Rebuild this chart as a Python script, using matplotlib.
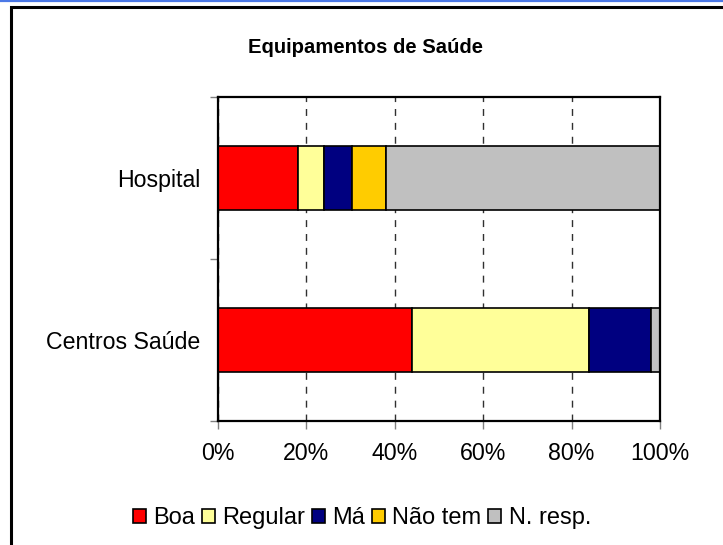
import matplotlib
matplotlib.use("Agg")
import matplotlib.pyplot as plt
from matplotlib.patches import Rectangle
from matplotlib.lines import Line2D
from matplotlib.ticker import FixedLocator, PercentFormatter

plt.rcParams['font.family'] = ['Liberation Sans', 'DejaVu Sans']

categories = ["Centros Saúde", "Hospital"]
series_names = ["Boa", "Regular", "Má", "Não tem", "N. resp."]
colors = ["#FF0000", "#FFFF99", "#000080", "#FFCC00", "#C0C0C0"]
values = {
    "Boa":      [43.8, 18.0],
    "Regular":  [40.1, 5.9],
    "Má":       [14.1, 6.4],
    "Não tem":  [0.0, 7.6],
    "N. resp.": [2.0, 62.1],
}
x_ticks = [0, 20, 40, 60, 80, 100]
title = "Equipamentos de Saúde"

W, H = 723, 545
fig = plt.figure(figsize=(W / 100, H / 100), dpi=100)
fig.patch.set_facecolor("white")

# outer frame (left + top) and blue top line
fig.patches.append(Rectangle((11 / W, -0.1), 1.2, (H - 7) / H + 0.1, transform=fig.transFigure,
                             fill=False, edgecolor="black", linewidth=2.2, clip_on=False))
fig.lines.append(Line2D([0, 1], [1 - 0.8 / H, 1 - 0.8 / H], transform=fig.transFigure,
                        color="#4B78E6", linewidth=1.6))

ax = fig.add_axes([218 / W, (H - 421) / H, (660 - 218) / W, (421 - 97) / H])

ypos = list(range(len(categories)))
left = [0.0] * len(categories)
for name, col in zip(series_names, colors):
    vals = values[name]
    ax.barh(ypos, vals, left=left, height=0.4, color=col, edgecolor="black",
            linewidth=1.2, label=name, zorder=3)
    left = [l + v for l, v in zip(left, vals)]

ax.set_xlim(0, 100)
ax.set_ylim(-0.5, len(categories) - 0.5)
ax.xaxis.set_major_locator(FixedLocator(x_ticks))
ax.xaxis.set_major_formatter(PercentFormatter(decimals=0))
ax.set_yticks(ypos)
ax.set_yticklabels(categories)
ax.yaxis.set_minor_locator(FixedLocator([i - 0.5 for i in range(len(categories) + 1)]))

ax.tick_params(axis="y", which="major", length=0, pad=13, labelsize=16.7)
ax.tick_params(axis="y", which="minor", length=6, width=1, color="#808080", direction="out")
ax.tick_params(axis="x", which="major", length=6, width=1, color="#808080", direction="out",
               pad=9, labelsize=16.7)

ax.grid(axis="x", color="#303030", linestyle=(0, (5, 5)), linewidth=1, zorder=1)
for s in ax.spines.values():
    s.set_color("black")
    s.set_linewidth(1.6)
    s.set_zorder(4)

fig.text(365 / W, 1 - 47 / H, title, ha="center", va="center", fontsize=14.6, fontweight="bold")

leg = fig.legend(loc="center", bbox_to_anchor=(362 / W, 1 - 518 / H), ncol=5, frameon=False,
                 fontsize=17, handlelength=0.55, handleheight=0.55, handletextpad=0.3,
                 columnspacing=0.3, borderaxespad=0)

fig.savefig("out.png", dpi=100)
